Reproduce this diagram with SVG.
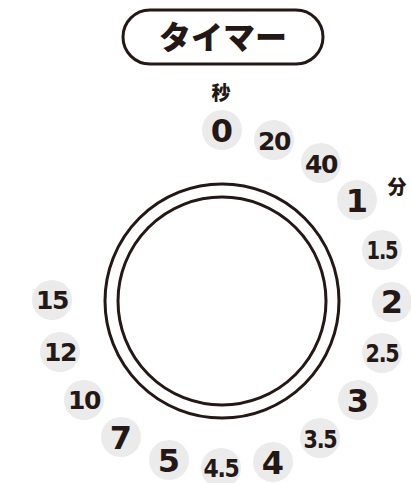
<svg xmlns="http://www.w3.org/2000/svg" width="411" height="483" viewBox="0 0 411 483">
<style>
.dot{fill:#ebebeb}
.big{font-family:"DejaVu Sans","Liberation Sans",sans-serif;font-weight:bold;font-size:32px;fill:#231815;text-anchor:middle}
.sm{font-family:"DejaVu Sans","Liberation Sans",sans-serif;font-weight:bold;font-size:25px;fill:#231815;text-anchor:middle;letter-spacing:-1.5px}
.jp{font-family:"Noto Sans CJK JP",sans-serif;font-weight:900;fill:#231815;text-anchor:middle}
.ring{fill:none;stroke:#231815;stroke-width:3}
</style>
<rect width="411" height="483" fill="#ffffff"/>
<g id="title">
<rect class="ring" x="123" y="10" width="200" height="54" rx="27"/>
<text class="jp" x="223" y="49" font-size="32">タイマー</text>
</g>
<g id="dial">
<circle class="ring" cx="222" cy="301" r="117"/>
<circle class="ring" cx="222" cy="301" r="104"/>
</g>
<g id="unit-sec"><text class="jp" x="221" y="100" font-size="19">秒</text></g>
<g id="unit-min"><text class="jp" x="397" y="194" font-size="19">分</text></g>
<g id="n0"><circle class="dot" cx="222" cy="130" r="20"/><text class="big" x="222" y="142">0</text></g>
<g id="n20"><circle class="dot" cx="274" cy="140" r="20"/><text class="sm" x="274" y="150">20</text></g>
<g id="n40"><circle class="dot" cx="321" cy="163" r="20"/><text class="sm" x="321" y="173">40</text></g>
<g id="n1"><circle class="dot" cx="357" cy="200" r="20"/><text class="big" x="357" y="212">1</text></g>
<g id="n1_5"><circle class="dot" cx="382" cy="250" r="20"/><text class="sm" x="382" y="259" textLength="31" lengthAdjust="spacingAndGlyphs">1.5</text></g>
<g id="n2"><circle class="dot" cx="392" cy="302" r="20"/><text class="big" x="392" y="313">2</text></g>
<g id="n2_5"><circle class="dot" cx="382" cy="353" r="20"/><text class="sm" x="382" y="362" textLength="33" lengthAdjust="spacingAndGlyphs">2.5</text></g>
<g id="n3"><circle class="dot" cx="358" cy="400" r="20"/><text class="big" x="358" y="412">3</text></g>
<g id="n3_5"><circle class="dot" cx="320" cy="438" r="20"/><text class="sm" x="320" y="448" textLength="33" lengthAdjust="spacingAndGlyphs">3.5</text></g>
<g id="n4"><circle class="dot" cx="273" cy="462" r="20"/><text class="big" x="273" y="474">4</text></g>
<g id="n4_5"><circle class="dot" cx="221" cy="468" r="20"/><text class="sm" x="221" y="477" textLength="35" lengthAdjust="spacingAndGlyphs">4.5</text></g>
<g id="n5"><circle class="dot" cx="169" cy="460" r="20"/><text class="big" x="169" y="472">5</text></g>
<g id="n7"><circle class="dot" cx="121" cy="437" r="20"/><text class="big" x="121" y="449">7</text></g>
<g id="n10"><circle class="dot" cx="84" cy="400" r="20"/><text class="sm" x="84" y="409">10</text></g>
<g id="n12"><circle class="dot" cx="60" cy="352" r="20"/><text class="sm" x="60" y="361">12</text></g>
<g id="n15"><circle class="dot" cx="52" cy="300" r="20"/><text class="sm" x="52" y="309">15</text></g>
<g id="connectors"/>
</svg>
